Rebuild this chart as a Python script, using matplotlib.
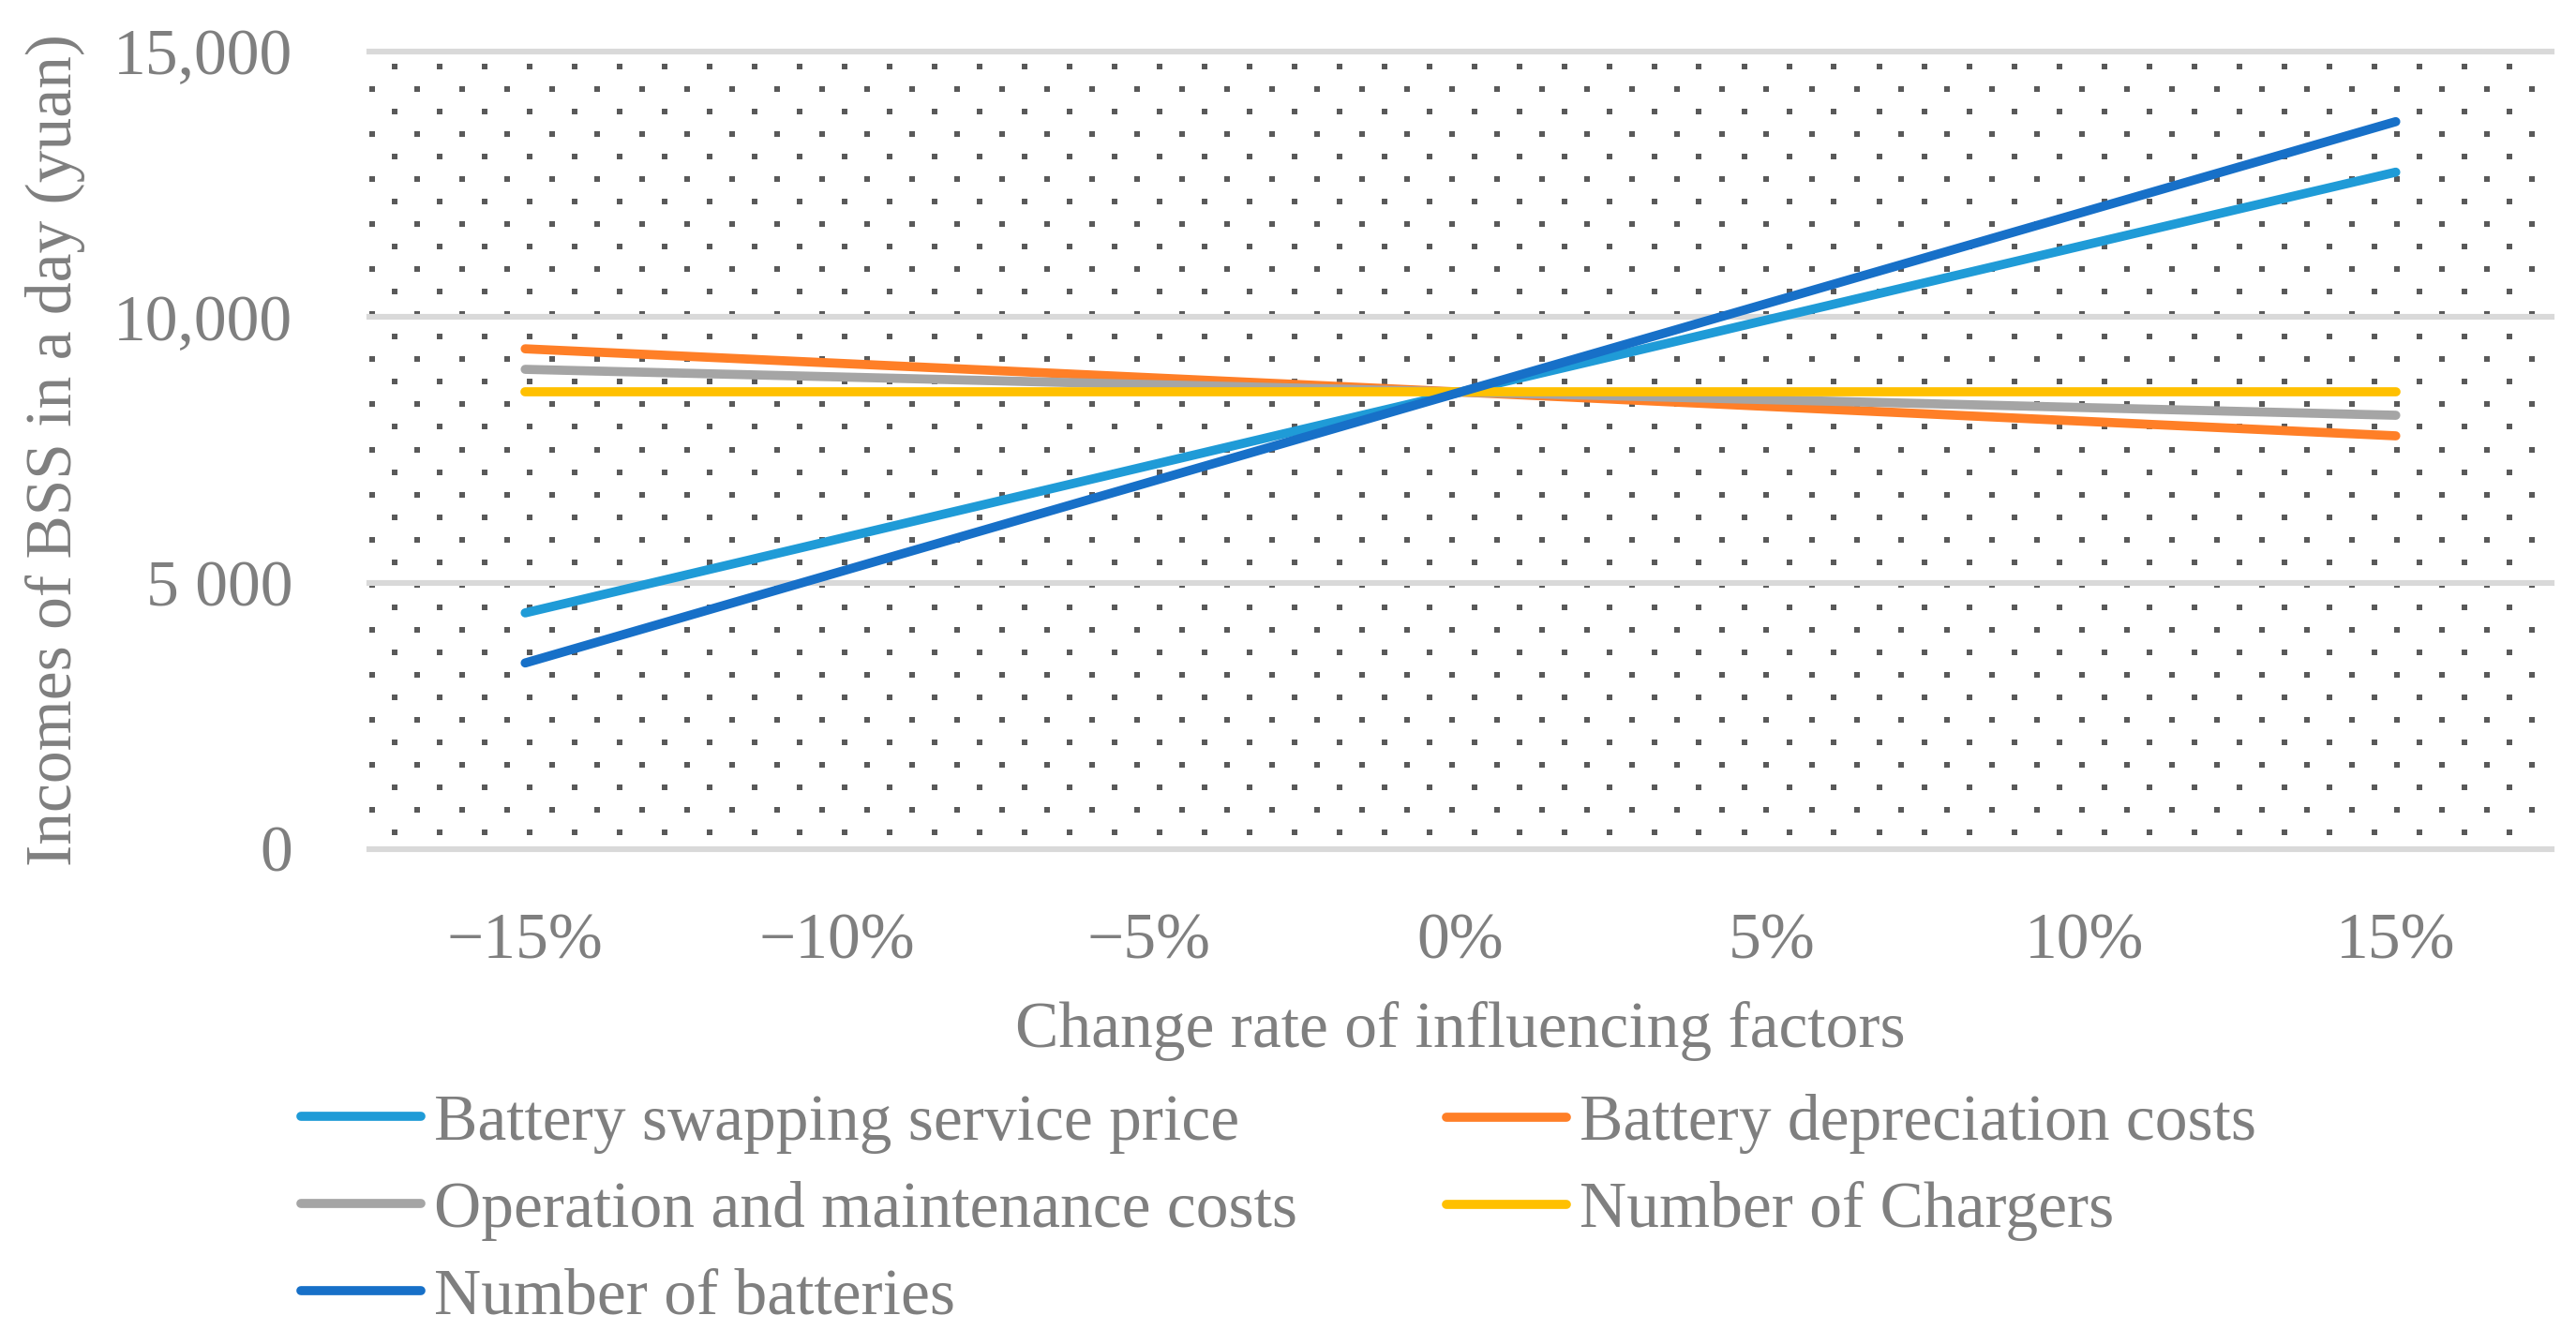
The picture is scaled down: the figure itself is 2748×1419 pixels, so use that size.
import numpy as np
import matplotlib
matplotlib.use('Agg')
import matplotlib.pyplot as plt

# change rate of the influencing factors (categories on the x axis)
change_rate = ['\u221215%', '\u221210%', '\u22125%', '0%', '5%', '10%', '15%']

# incomes of the BSS in a day (yuan)
swap_price = [4436, 5820, 7205, 8590, 9970, 11350, 12726]
depreciation = [9403, 9132, 8861, 8590, 8315, 8040, 7766]
om_costs = [9017, 8875, 8732, 8590, 8444, 8298, 8153]
n_chargers = [8590, 8590, 8590, 8590, 8590, 8590, 8590]
n_batteries = [3494, 5193, 6892, 8590, 10285, 11980, 13676]

y_ticks = [0, 5000, 10000, 15000]
y_tick_labels = ['0', '5 000', '10,000', '15,000']

series = [
    ('Battery swapping service price', swap_price, '#1F9BD7'),
    ('Battery depreciation costs', depreciation, '#FF7F27'),
    ('Operation and maintenance costs', om_costs, '#A5A5A5'),
    ('Number of Chargers', n_chargers, '#FFC000'),
    ('Number of batteries', n_batteries, '#1770C8'),
]

plt.rcParams['font.family'] = ['Liberation Serif', 'DejaVu Serif']
txt_col = '#7F7F7F'
fs = 25

W, H, dpi = 2748, 1419, 200
fig = plt.figure(figsize=(W / dpi, H / dpi), dpi=dpi)
ax_l, ax_r, ax_t, ax_b = 394, 2722, 54.7, 905.5
ax = fig.add_axes([ax_l / W, 1 - ax_b / H, (ax_r - ax_l) / W, (ax_b - ax_t) / H])

# dotted pattern fill of the plot area (pixel spacing of the original)
ax_w, ax_h = ax_r - ax_l, ax_b - ax_t
px, py = [], []
for i, ry in enumerate(np.arange(16.3, ax_h, 24.03)):
    xs = np.arange(26.5 if i % 2 == 0 else 2.5, ax_w, 48.0)
    px.extend(xs)
    py.extend([ry] * len(xs))
px, py = np.array(px), np.array(py)
ax.scatter(px / ax_w, 1 - py / ax_h, transform=ax.transAxes, marker='s', s=4.2,
           color='#595959', linewidths=0, zorder=0.1)

x = np.arange(len(change_rate))
lines = {}
for name, vals, col in series:
    ln, = ax.plot(x, vals, color=col, lw=3.5, solid_capstyle='round', label=name, zorder=2)
    lines[name] = ln

ax.set_xlim(-0.5, len(change_rate) - 0.5)
ax.set_ylim(0, 15000)
ax.set_xticks(x)
ax.set_xticklabels(change_rate)
ax.set_yticks(y_ticks)
ax.set_yticklabels(y_tick_labels)
ax.tick_params(axis='both', length=0, labelsize=fs, labelcolor=txt_col)
ax.tick_params(axis='x', pad=24.5)
ax.tick_params(axis='y', pad=29.5)
for s in ax.spines.values():
    s.set_visible(False)
ax.set_axisbelow(True)
ax.grid(axis='y', color='#D9D9D9', lw=2.2)
ax.grid(axis='x', visible=False)
for gl in ax.get_ygridlines():
    gl.set_clip_on(False)

ax.set_xlabel('Change rate of influencing factors', fontsize=fs, color=txt_col)
ax.xaxis.set_label_coords(0.5, -0.191)
ax.set_ylabel('Incomes of BSS in a day (yuan)', fontsize=fs, color=txt_col)
ax.yaxis.set_label_coords(-0.130, 0.5)

leg_kw = dict(frameon=False, fontsize=fs, labelcolor=txt_col, borderpad=0, borderaxespad=0,
              handlelength=1.84, handletextpad=0.2, labelspacing=0.42, loc='upper left',
              bbox_transform=fig.transFigure)
col1 = ['Battery swapping service price', 'Operation and maintenance costs', 'Number of batteries']
col2 = ['Battery depreciation costs', 'Number of Chargers']
leg1 = ax.legend([lines[n] for n in col1], col1, bbox_to_anchor=(321 / W, 1 - 1167 / H), **leg_kw)
ax.add_artist(leg1)
ax.legend([lines[n] for n in col2], col2, bbox_to_anchor=(1543 / W, 1 - 1167 / H), **leg_kw)

fig.savefig('out.png', dpi=dpi)
